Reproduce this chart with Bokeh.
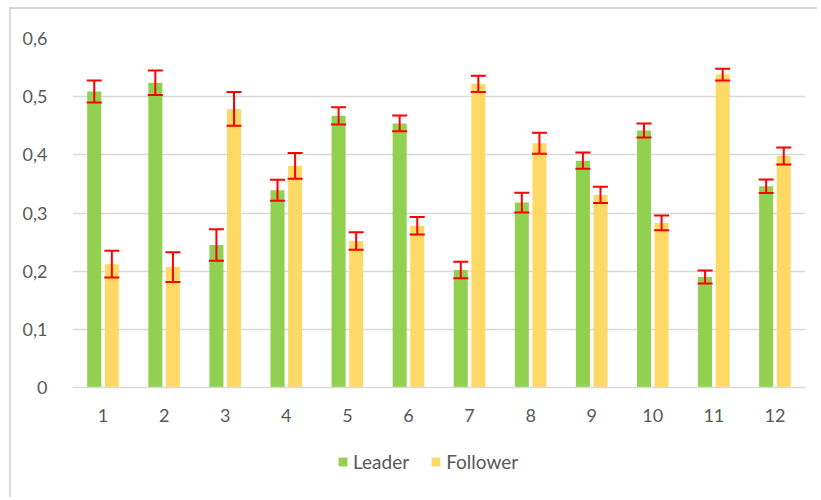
from bokeh.plotting import figure
from bokeh.models import (ColumnDataSource, FactorRange, Range1d, Whisker, TeeHead,
                          Legend, LegendItem, FixedTicker, Spacer)
from bokeh.layouts import column, row
from bokeh.transform import dodge
from bokeh.embed import file_html
from bokeh.resources import INLINE

categories = ["1", "2", "3", "4", "5", "6", "7", "8", "9", "10", "11", "12"]
leader = [0.509, 0.524, 0.245, 0.339, 0.467, 0.454, 0.202, 0.318, 0.390, 0.442, 0.190, 0.346]
leader_err = [0.019, 0.021, 0.027, 0.018, 0.015, 0.0135, 0.014, 0.017, 0.014, 0.012, 0.011, 0.0115]
follower = [0.212, 0.207, 0.479, 0.381, 0.252, 0.278, 0.522, 0.420, 0.331, 0.283, 0.538, 0.398]
follower_err = [0.023, 0.0255, 0.029, 0.022, 0.015, 0.015, 0.014, 0.018, 0.014, 0.0125, 0.010, 0.0145]
series_names = ["Leader", "Follower"]
series_fields = ["leader", "follower"]
series_colors = ["#92D050", "#FFD966"]
y_ticks = [0, 0.1, 0.2, 0.3, 0.4, 0.5, 0.6]
y_tick_labels = ["0", "0,1", "0,2", "0,3", "0,4", "0,5", "0,6"]

src = ColumnDataSource(dict(
    cats=categories,
    leader=leader,
    follower=follower,
    leader_hi=[v + e for v, e in zip(leader, leader_err)],
    leader_lo=[v - e for v, e in zip(leader, leader_err)],
    follower_hi=[v + e for v, e in zip(follower, follower_err)],
    follower_lo=[v - e for v, e in zip(follower, follower_err)],
))

FONT = "Lato"
TXT = "#595959"
GRID = "#D9D9D9"
BORDER = "2px solid #D9D9D9"

p = figure(x_range=FactorRange(factors=categories, range_padding=0),
           y_range=Range1d(0, 0.6),
           width=808, height=420, output_backend="svg", toolbar_location=None,
           min_border_left=61, min_border_right=14, min_border_top=29, min_border_bottom=42)
p.styles = {"border-top": BORDER, "border-left": BORDER}
p.outline_line_color = None

off = 0.144
bw = 0.23
offsets = [-off, off]
for field, color, o in zip(series_fields, series_colors, offsets):
    p.vbar(x=dodge("cats", o, range=p.x_range), top=field, width=bw, source=src,
           fill_color=color, line_color=None)
    w = Whisker(base=dodge("cats", o, range=p.x_range), upper=field + "_hi", lower=field + "_lo",
                source=src, line_color="#FF0000", line_width=2, level="overlay",
                upper_head=TeeHead(size=15, line_color="#FF0000", line_width=2),
                lower_head=TeeHead(size=15, line_color="#FF0000", line_width=2))
    p.add_layout(w)

# axes
p.yaxis.ticker = FixedTicker(ticks=y_ticks)
p.yaxis.major_label_overrides = {t: l for t, l in zip(y_ticks, y_tick_labels)}
p.yaxis.axis_line_color = None
p.yaxis.major_tick_line_color = None
p.yaxis.minor_tick_line_color = None
p.yaxis.major_label_standoff = 19
p.xaxis.axis_line_color = GRID
p.xaxis.axis_line_width = 1.5
p.xaxis.major_tick_line_color = None
p.xaxis.major_label_standoff = 15
for ax in (p.xaxis, p.yaxis):
    ax.major_label_text_font = FONT
    ax.major_label_text_font_size = "18px"
    ax.major_label_text_color = TXT

p.xgrid.grid_line_color = None
p.ygrid.grid_line_color = GRID
p.ygrid.grid_line_width = 1.5

# legend strip below the chart (its series lie outside its visible y range)
lp = figure(width=808, height=70, output_backend="svg", toolbar_location=None,
            x_range=p.x_range, y_range=Range1d(10, 11),
            x_axis_type=None, y_axis_type=None,
            min_border_left=61, min_border_right=14, min_border_top=0, min_border_bottom=0)
lp.styles = {"border-left": BORDER}
lp.outline_line_color = None
lp.grid.visible = False
items = []
for name, field, color, o in zip(series_names, series_fields, series_colors, offsets):
    r = lp.vbar(x=dodge("cats", o, range=lp.x_range), top=field, width=bw, source=src,
                fill_color=color, line_color=None)
    items.append(LegendItem(label=name, renderers=[r]))

legend = Legend(items=items, orientation="horizontal", location=(265, 24),
                border_line_color=None, background_fill_alpha=0,
                padding=0, margin=0, spacing=21, label_standoff=5,
                glyph_width=11, glyph_height=11, label_height=20,
                label_text_font=FONT, label_text_font_size="19px", label_text_color=TXT)
lp.add_layout(legend)

layout = row(Spacer(width=9), column(Spacer(height=7), p, lp))

open("out.html", "w").write(file_html(layout, INLINE))
